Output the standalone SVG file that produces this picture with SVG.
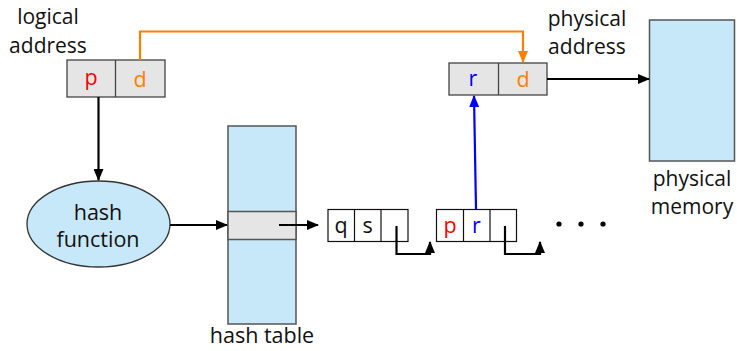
<svg xmlns="http://www.w3.org/2000/svg" width="737" height="351" viewBox="0 0 737 351">
<defs>
<style>
text{font-family:"Open Sans","Noto Sans","Liberation Sans",sans-serif;font-size:21.5px;fill:#111;text-anchor:middle}
.lbl{font-size:21px}
.cell{fill:#e5e5e5;stroke:#444;stroke-width:1.3}
.node{fill:#fff;stroke:#111;stroke-width:1.2}
.blue{fill:#c7e8f8;stroke:#555;stroke-width:1.5}
.ln{fill:none;stroke:#000;stroke-width:2.2}
.red{fill:#ff0000}
.bl{fill:#0000ff}
.or{fill:#ff8000}
</style>
<marker id="ak" markerWidth="12" markerHeight="10" refX="11" refY="5" orient="auto" markerUnits="userSpaceOnUse"><path d="M0,0 L12,5 L0,10 Z" fill="#000"/></marker>
<marker id="ao" markerWidth="12" markerHeight="10" refX="11" refY="5" orient="auto" markerUnits="userSpaceOnUse"><path d="M0,0 L12,5 L0,10 Z" fill="#ff8000"/></marker>
<marker id="ab" markerWidth="12" markerHeight="10" refX="11" refY="5" orient="auto" markerUnits="userSpaceOnUse"><path d="M0,0 L12,5 L0,10 Z" fill="#0000ff"/></marker>
</defs>
<rect width="737" height="351" fill="#fff"/>

<g id="logical-address">
<text class="lbl" x="48" y="24">logical</text>
<text class="lbl" x="48" y="52.5">address</text>
<rect class="cell" x="67" y="60" width="98" height="37"/>
<line x1="115.5" y1="60" x2="115.5" y2="97" stroke="#444" stroke-width="1.3"/>
<text class="red" x="91" y="85">p</text>
<text class="or" x="140" y="87">d</text>
</g>

<g id="physical-address">
<text class="lbl" x="587" y="25.5">physical</text>
<text class="lbl" x="587" y="54">address</text>
<rect class="cell" x="449" y="63" width="98" height="32"/>
<line x1="498.5" y1="63" x2="498.5" y2="95" stroke="#444" stroke-width="1.3"/>
<text class="bl" x="473" y="86">r</text>
<text class="or" x="523" y="87">d</text>
</g>

<g id="physical-memory">
<rect class="blue" x="649.5" y="20" width="85" height="141"/>
<text class="lbl" x="692" y="185.5">physical</text>
<text class="lbl" x="692" y="214">memory</text>
</g>

<g id="hash-function">
<ellipse cx="98.5" cy="224" rx="71.5" ry="43" fill="#c7e8f8" stroke="#333" stroke-width="1.3"/>
<text x="98" y="220">hash</text>
<text x="98" y="247">function</text>
</g>

<g id="hash-table">
<rect class="blue" x="228" y="126" width="68" height="198"/>
<rect class="cell" x="228" y="211.5" width="68" height="28" style="stroke:#555;stroke-width:1.5"/>
<text x="262" y="343">hash table</text>
</g>

<g id="entry-qs">
<rect class="node" x="328" y="209.5" width="80" height="32"/>
<line x1="354.5" y1="209.5" x2="354.5" y2="241.5" stroke="#111" stroke-width="1.2"/>
<line x1="381" y1="209.5" x2="381" y2="241.5" stroke="#111" stroke-width="1.2"/>
<text x="341" y="233">q</text>
<text x="367.5" y="233">s</text>
</g>

<g id="entry-pr">
<rect class="node" x="436.5" y="209.5" width="80" height="32"/>
<line x1="463.5" y1="209.5" x2="463.5" y2="241.5" stroke="#111" stroke-width="1.2"/>
<line x1="490" y1="209.5" x2="490" y2="241.5" stroke="#111" stroke-width="1.2"/>
<text class="red" x="450" y="233">p</text>
<text class="bl" x="476.5" y="233">r</text>
</g>

<g id="ellipsis">
<circle cx="559" cy="224" r="2.6" fill="#000"/>
<circle cx="581" cy="224" r="2.6" fill="#000"/>
<circle cx="603" cy="224" r="2.6" fill="#000"/>
</g>

<g id="connectors">
<polyline points="140,60 140,31.5 523,31.5 523,62" fill="none" stroke="#ff8000" stroke-width="2.2" marker-end="url(#ao)"/>
<line class="ln" x1="547" y1="79" x2="649" y2="79" marker-end="url(#ak)"/>
<line class="ln" x1="98.5" y1="97" x2="98.5" y2="180" marker-end="url(#ak)"/>
<line class="ln" x1="170" y1="225" x2="227" y2="225" marker-end="url(#ak)"/>
<line class="ln" x1="279" y1="225" x2="318" y2="225" marker-end="url(#ak)"/>
<polyline class="ln" points="396.5,226 396.5,254 430,254 430,242" marker-end="url(#ak)"/>
<polyline class="ln" points="505,226 505,254 540,254 540,242" marker-end="url(#ak)"/>
<line x1="476" y1="209" x2="474" y2="96" stroke="#0000ff" stroke-width="2.2" marker-end="url(#ab)"/>
</g>
</svg>
